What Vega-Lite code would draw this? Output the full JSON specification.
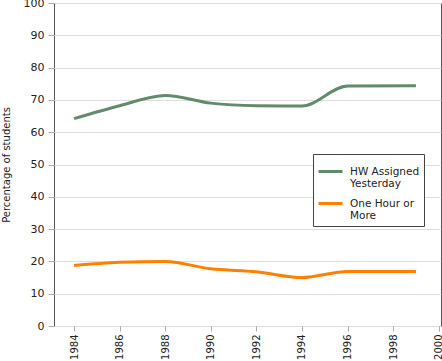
{
  "$schema": "https://vega.github.io/schema/vega-lite/v6.json",
  "width": 387,
  "height": 323,
  "autosize": {"type": "none"},
  "padding": {"left": 54, "top": 3, "right": 1, "bottom": 35},
  "background": "white",
  "config": {
    "font": "DejaVu Sans",
    "view": {"stroke": "#555555", "strokeWidth": 1}
  },
  "data": {
    "values": [
      {"year": 1984, "series": "HW Assigned Yesterday", "pct": 64.2},
      {"year": 1986, "series": "HW Assigned Yesterday", "pct": 68.2},
      {"year": 1988, "series": "HW Assigned Yesterday", "pct": 71.4},
      {"year": 1990, "series": "HW Assigned Yesterday", "pct": 69.0},
      {"year": 1992, "series": "HW Assigned Yesterday", "pct": 68.2},
      {"year": 1994, "series": "HW Assigned Yesterday", "pct": 68.1},
      {"year": 1996, "series": "HW Assigned Yesterday", "pct": 74.3},
      {"year": 1999, "series": "HW Assigned Yesterday", "pct": 74.4},
      {"year": 1984, "series": "One Hour or More", "pct": 18.7},
      {"year": 1986, "series": "One Hour or More", "pct": 19.7},
      {"year": 1988, "series": "One Hour or More", "pct": 20.0},
      {"year": 1990, "series": "One Hour or More", "pct": 17.7},
      {"year": 1992, "series": "One Hour or More", "pct": 16.8},
      {"year": 1994, "series": "One Hour or More", "pct": 15.0},
      {"year": 1996, "series": "One Hour or More", "pct": 16.9},
      {"year": 1999, "series": "One Hour or More", "pct": 16.9}
    ]
  },
  "mark": {"type": "line", "strokeWidth": 3, "interpolate": "monotone"},
  "encoding": {
    "x": {
      "field": "year",
      "type": "quantitative",
      "scale": {"domain": [1983.12, 2000.1], "nice": false, "zero": false},
      "axis": {
        "values": [1984, 1986, 1988, 1990, 1992, 1994, 1996, 1998, 2000],
        "format": "d",
        "title": null,
        "grid": false,
        "labelAngle": 270,
        "labelAlign": "right",
        "labelBaseline": "middle",
        "labelFontSize": 10,
        "labelColor": "#222222",
        "labelPadding": 3,
        "tickColor": "#aaaaaa",
        "tickSize": 5,
        "domain": false
      }
    },
    "y": {
      "field": "pct",
      "type": "quantitative",
      "scale": {"domain": [0, 100], "nice": false},
      "axis": {
        "values": [0, 10, 20, 30, 40, 50, 60, 70, 80, 90, 100],
        "title": "Percentage of students",
        "titleFont": "DejaVu Sans",
        "titleFontSize": 10,
        "titleFontWeight": "normal",
        "titleColor": "#222222",
        "titlePadding": 12,
        "labelFontSize": 11,
        "labelColor": "#222222",
        "labelPadding": 4,
        "gridColor": "#dddddd",
        "tickColor": "#aaaaaa",
        "tickSize": 6,
        "domain": false
      }
    },
    "color": {
      "field": "series",
      "type": "nominal",
      "scale": {
        "domain": ["HW Assigned Yesterday", "One Hour or More"],
        "range": ["#628a6c", "#ff8000"]
      },
      "legend": {
        "title": null,
        "orient": "none",
        "legendX": 259,
        "legendY": 151,
        "symbolType": "stroke",
        "symbolStrokeWidth": 3,
        "symbolSize": 576,
        "labelFontSize": 10.5,
        "labelColor": "#222222",
        "labelLineHeight": 13,
        "labelExpr": "datum.label == 'HW Assigned Yesterday' ? ['HW Assigned', 'Yesterday'] : ['One Hour or', 'More']",
        "labelBaseline": "middle",
        "labelOffset": 6,
        "rowPadding": 0,
        "padding": 4,
        "strokeColor": "#444444",
        "fillColor": "white",
        "cornerRadius": 0
      }
    }
  }
}
